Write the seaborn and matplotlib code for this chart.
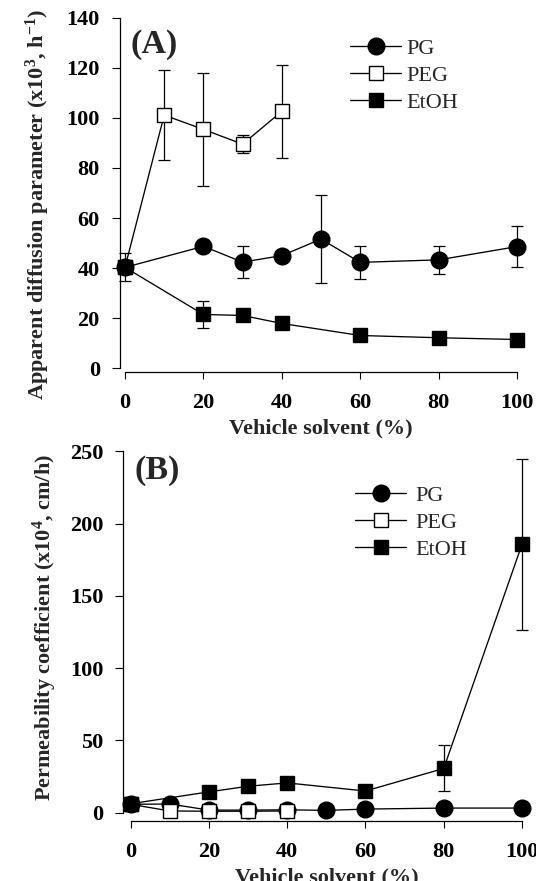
import numpy as np
import pandas as pd
import matplotlib
matplotlib.use("Agg")
import matplotlib.pyplot as plt
import seaborn as sns

# ---------------- data ----------------
# Panel A: apparent diffusion parameter (x10^3, h^-1)
a_pg_x = [0, 20, 30, 40, 50, 60, 80, 100]
a_pg_y = [40.3, 48.7, 42.4, 45.0, 51.6, 42.3, 43.3, 48.6]
a_pg_e = [5.6, 0.0, 6.5, 0.0, 17.5, 6.7, 5.7, 8.3]

a_peg_x = [0, 10, 20, 30, 40]
a_peg_y = [40.3, 101.1, 95.4, 89.5, 102.6]
a_peg_e = [0.0, 18.0, 22.5, 3.5, 18.7]

a_et_x = [0, 20, 30, 40, 60, 80, 100]
a_et_y = [40.3, 21.5, 21.1, 17.9, 13.1, 12.2, 11.5]
a_et_e = [0.0, 5.3, 0.0, 0.0, 0.0, 0.0, 0.0]

# Panel B: permeability coefficient (x10^4, cm/h)
b_pg_x = [0, 10, 20, 30, 40, 50, 60, 80, 100]
b_pg_y = [5.8, 6.0, 1.8, 1.8, 2.0, 1.6, 2.5, 3.2, 3.2]

b_peg_x = [0, 10, 20, 30, 40]
b_peg_y = [5.8, 1.2, 1.0, 1.0, 1.2]

b_et_x = [0, 20, 30, 40, 60, 80, 100]
b_et_y = [6.2, 14.4, 18.3, 20.6, 15.0, 30.6, 185.6]
b_et_e = [0.0, 0.0, 0.0, 0.0, 0.0, 15.9, 59.0]

series_names = ["PG", "PEG", "EtOH"]
x_ticks = [0, 20, 40, 60, 80, 100]
a_yticks = [0, 20, 40, 60, 80, 100, 120, 140]
b_yticks = [0, 50, 100, 150, 200, 250]

# ---------------- style ----------------
sns.set_theme(style="ticks")
plt.rcParams["font.family"] = ["Liberation Serif", "DejaVu Serif"]
plt.rcParams["mathtext.fontset"] = "custom"
plt.rcParams["mathtext.rm"] = "Liberation Serif:bold"
plt.rcParams["mathtext.bf"] = "Liberation Serif:bold"
plt.rcParams["mathtext.it"] = "Liberation Serif:bold"

W, H = 536, 881
fig = plt.figure(figsize=(W / 100, H / 100), dpi=100)


def px_axes(x0, x1, y_top, y_bot):
    return fig.add_axes([x0 / W, 1 - y_bot / H, (x1 - x0) / W, (y_bot - y_top) / H])


axA = px_axes(125, 517, 17.7, 368.3)
axB = px_axes(130.7, 522, 451.2, 812.7)

styles = {
    "PG": dict(marker="o", markersize=12, markerfacecolor="black"),
    "PEG": dict(marker="s", markersize=10.5, markerfacecolor="white"),
    "EtOH": dict(marker="s", markersize=10.5, markerfacecolor="black"),
}


def draw(ax, name, xs, ys, es=None, z=3):
    df = pd.DataFrame({"x": xs, "y": ys})
    if es is not None:
        ax.errorbar(xs, ys, yerr=es, fmt="none", ecolor="black", elinewidth=0.9,
                    capsize=4, capthick=0.9, zorder=z - 0.5, clip_on=False)
    sns.lineplot(data=df, x="x", y="y", ax=ax, color="black", lw=0.95,
                 markeredgecolor="black", markeredgewidth=1.0, label=name,
                 errorbar=None, zorder=z, clip_on=False, **styles[name])


draw(axA, "PG", a_pg_x, a_pg_y, a_pg_e, z=3)
draw(axA, "PEG", a_peg_x, a_peg_y, a_peg_e, z=4)
draw(axA, "EtOH", a_et_x, a_et_y, a_et_e, z=5)

draw(axB, "PG", b_pg_x, b_pg_y, None, z=3)
draw(axB, "PEG", b_peg_x, b_peg_y, None, z=4)
draw(axB, "EtOH", b_et_x, b_et_y, b_et_e, z=5)


def style_axes(ax, ylim, yticks, left_off, bot_off, ylabel, yl_x, yl_y):
    for s in ["top", "right"]:
        ax.spines[s].set_visible(False)
    ax.spines["left"].set_position(("outward", left_off))
    ax.spines["bottom"].set_position(("outward", bot_off))
    ax.set_xlim(0, 100)
    ax.set_ylim(*ylim)
    ax.spines["left"].set_bounds(ylim[0], ylim[1])
    ax.spines["bottom"].set_bounds(0, 100)
    for s in ["left", "bottom"]:
        ax.spines[s].set_linewidth(0.9)
        ax.spines[s].set_color("black")
    ax.set_xticks(x_ticks)
    ax.set_yticks(yticks)
    ax.set_xticklabels([str(v) for v in x_ticks])
    ax.set_yticklabels([str(v) for v in yticks])
    ax.tick_params(axis="y", direction="out", length=5.5, width=0.8, pad=9,
                   colors="black", labelsize=16)
    ax.tick_params(axis="x", direction="out", length=5, width=0.8, pad=10,
                   colors="black", labelsize=16)
    for lab in ax.get_xticklabels() + ax.get_yticklabels():
        lab.set_fontweight("bold")
        lab.set_fontfamily("Liberation Serif")
    ax.set_xlabel("Vehicle solvent (%)", fontsize=16, fontweight="bold", labelpad=4)
    ax.set_ylabel(ylabel, fontsize=16, fontweight="bold")
    ax.yaxis.set_label_coords(yl_x, yl_y)
    ax.set_facecolor("white")


style_axes(axA, (0, 140), a_yticks, 3.6, 2.9,
           r"Apparent diffusion parameter (x10$^{3}$, h$^{-1}$)", -0.187, 0.466)
style_axes(axB, (0, 250), b_yticks, 5.3, 5.8,
           r"Permeability coefficient (x10$^{4}$, cm/h)", -0.182, 0.512)

fig.text(131 / W, 1 - 45 / H, "(A)", fontsize=24.5, fontweight="bold", va="center", ha="left")
fig.text(135 / W, 1 - 470 / H, "(B)", fontsize=24.5, fontweight="bold", va="center", ha="left")

for ax, (lx, ly), tp in [(axA, (350, 38), 0.25), (axB, (355, 485), 0.4)]:
    leg = ax.legend(loc="upper left", bbox_to_anchor=(lx / W, 1 - ly / H),
                    bbox_transform=fig.transFigure, frameon=False,
                    prop=dict(family="Liberation Serif", size=16),
                    handlelength=2.3, handletextpad=tp, labelspacing=0.3,
                    borderpad=0, borderaxespad=0)

fig.savefig("out.png", dpi=100, facecolor="white")
